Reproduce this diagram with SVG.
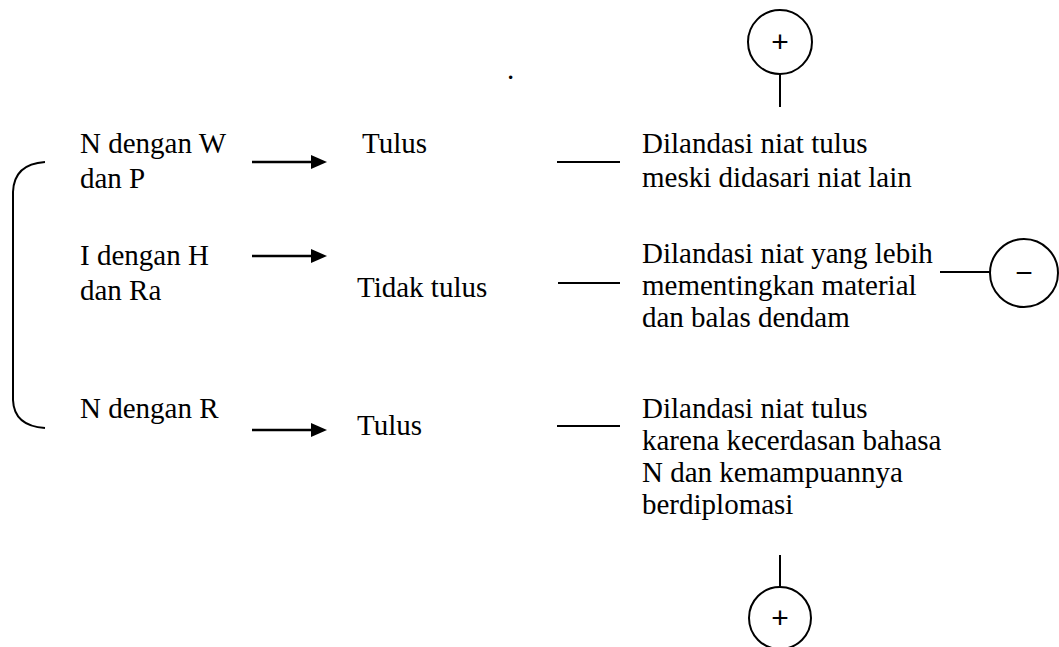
<svg xmlns="http://www.w3.org/2000/svg" width="1059" height="647" viewBox="0 0 1059 647">
<defs>
<style>
.t{font-family:"Liberation Serif","Times New Roman",serif;font-size:29px;fill:#000}
.sym{font-family:"Liberation Sans",Arial,sans-serif;font-size:30px;text-anchor:middle;fill:#000}
.ln{stroke:#000;stroke-width:2;fill:none}
.al{stroke:#000;stroke-width:2.5;fill:none}
.ah{fill:#000;stroke:none}
</style>
</defs>
<rect width="1059" height="647" fill="#fff"/>
<text class="t" x="507" y="79" font-size="12">.</text>

<g id="bracket"><path class="ln" d="M45,162 Q14,164 13,192 L13,400 Q14,426 45,428"/></g>

<g id="src1"><text class="t" x="80" y="153">N dengan W</text><text class="t" x="80" y="188">dan P</text></g>
<g id="src2"><text class="t" x="80" y="265">I dengan H</text><text class="t" x="80" y="300">dan Ra</text></g>
<g id="src3"><text class="t" x="80" y="418">N dengan R</text></g>

<g id="res1"><text class="t" x="362" y="153">Tulus</text></g>
<g id="res2"><text class="t" x="357" y="297">Tidak tulus</text></g>
<g id="res3"><text class="t" x="357" y="435">Tulus</text></g>

<g id="desc1"><text class="t" x="642" y="153">Dilandasi niat tulus</text><text class="t" x="642" y="187">meski didasari niat lain</text></g>
<g id="desc2"><text class="t" x="642" y="263">Dilandasi niat yang lebih</text><text class="t" x="642" y="295">mementingkan material</text><text class="t" x="642" y="327">dan balas dendam</text></g>
<g id="desc3"><text class="t" x="642" y="418">Dilandasi niat tulus</text><text class="t" x="642" y="450">karena kecerdasan bahasa</text><text class="t" x="642" y="482">N dan kemampuannya</text><text class="t" x="642" y="514">berdiplomasi</text></g>

<g id="plusTop"><circle class="ln" cx="780" cy="42" r="32"/><text class="sym" x="780" y="52">+</text></g>
<g id="minus"><circle class="ln" cx="1024" cy="273" r="34"/><text class="sym" x="1024" y="283">−</text></g>
<g id="plusBottom"><circle class="ln" cx="780" cy="618" r="31"/><text class="sym" x="780" y="628">+</text></g>

<g id="connectors">
<path class="al" d="M252,162 H313"/><path class="ah" d="M311,155 L327,162 L311,169 z"/>
<path class="al" d="M252,256 H313"/><path class="ah" d="M311,249 L327,256 L311,263 z"/>
<path class="al" d="M252,430 H313"/><path class="ah" d="M311,423 L327,430 L311,437 z"/>
<path class="ln" d="M557,162 H620"/>
<path class="ln" d="M558,283 H620"/>
<path class="ln" d="M557,426 H620"/>
<path class="ln" d="M780,74 V107"/>
<path class="ln" d="M940,272 H990"/>
<path class="ln" d="M780,555 V587"/>
</g>
</svg>
